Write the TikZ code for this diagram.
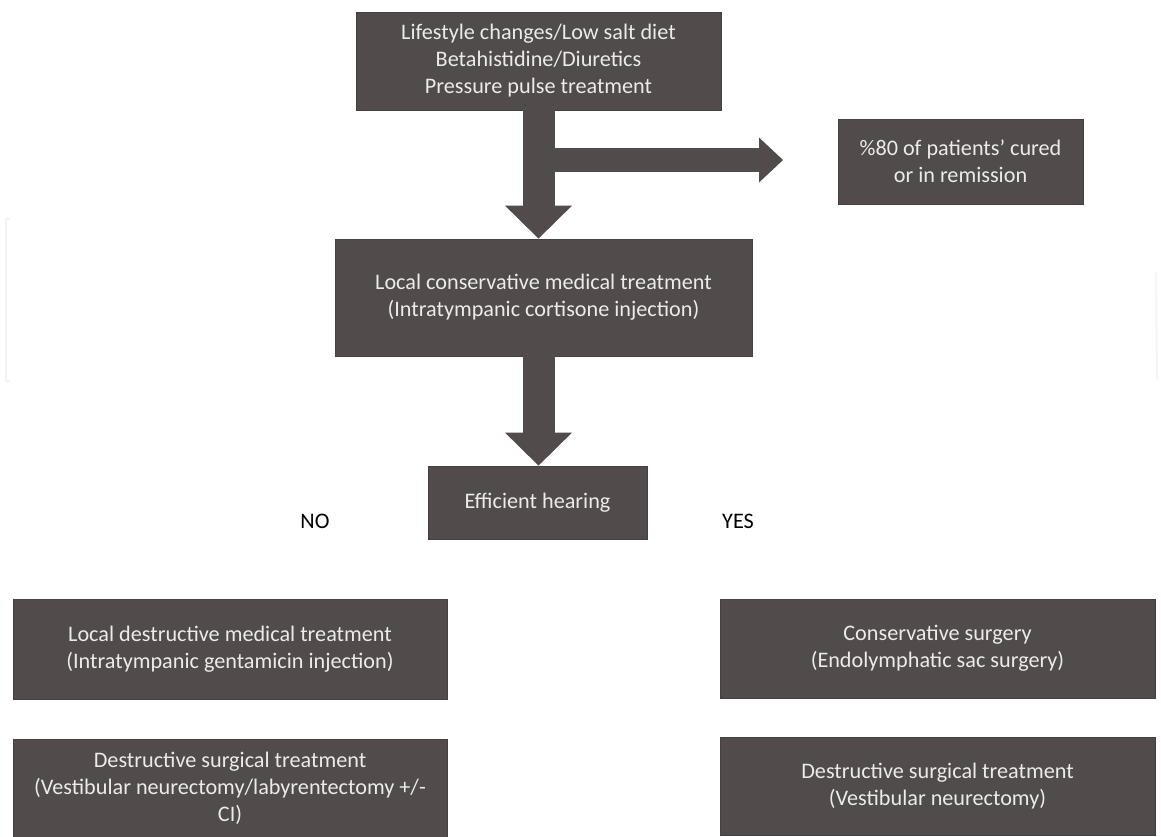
\documentclass[tikz,border=0pt]{standalone}
\usepackage{fontspec}
\setmainfont{Carlito}
\usetikzlibrary{arrows.meta}
\definecolor{boxfill}{HTML}{514B4B}
\definecolor{boxtext}{HTML}{EDEAEA}
\begin{document}
\begin{tikzpicture}[x=1pt,y=-1pt,
    box/.style={fill=boxfill, draw=boxfill!85!black, line width=0.8pt, text=boxtext,
      align=center, inner sep=0pt, font=\fontsize{22.2}{27}\selectfont},
    tag/.style={font=\fontsize{22.2}{27}\selectfont},
    fat/.style={draw=boxfill, line width=32pt, -{Triangle[width=67pt,length=33pt,line width=0pt]}}]
    \useasboundingbox (0,0) rectangle (1161,836);

    \draw[gray!10, line width=2pt] (10,219) -- (6,219) -- (6,381) -- (10,381);
    \draw[gray!8, line width=2pt] (1156,272) -- (1157,380);

    \node[box, minimum width=365pt, minimum height=98pt] (diet) at (538.5,61)
        {Lifestyle changes/Low salt diet\\Betahistidine/Diuretics\\Pressure pulse treatment};
    \node[box, minimum width=245pt, minimum height=85pt] (cured) at (960.5,161.5)
        {\%80 of patients' cured\\or in remission};
    \node[box, minimum width=417pt, minimum height=117pt] (local) at (543.5,297.5)
        {Local conservative medical treatment\\(Intratympanic cortisone injection)};
    \node[box, minimum width=219pt, minimum height=73pt] (hearing) at (537.5,502.5)
        {Efficient hearing};

    \node[tag] (no) at (315,521) {NO};
    \node[tag] (yes) at (738,521) {YES};

    \node[box, minimum width=434pt, minimum height=100pt] (gent) at (230,649)
        {Local destructive medical treatment\\(Intratympanic gentamicin injection)};
    \node[box, minimum width=434pt, minimum height=98pt] (cutL) at (230,788)
        {Destructive surgical treatment\\(Vestibular neurectomy/labyrentectomy +/-\\CI)};
    \node[box, minimum width=435pt, minimum height=99pt] (sac) at (937.5,648.5)
        {Conservative surgery\\(Endolymphatic sac surgery)};
    \node[box, minimum width=435pt, minimum height=98pt] (cutR) at (937.5,786)
        {Destructive surgical treatment\\(Vestibular neurectomy)};

    % block arrows
    \draw[fat] (diet.south) -- (diet.south |- local.north);
    \coordinate (fork) at (538,160);
    \coordinate (forkend) at (783,160);
    \draw[fat, line width=24pt, -{Triangle[width=45pt,length=24pt,line width=0pt]}] (fork) -- (forkend);
    \draw[fat] (diet.south |- local.south) -- (diet.south |- hearing.north);
\end{tikzpicture}
\end{document}
